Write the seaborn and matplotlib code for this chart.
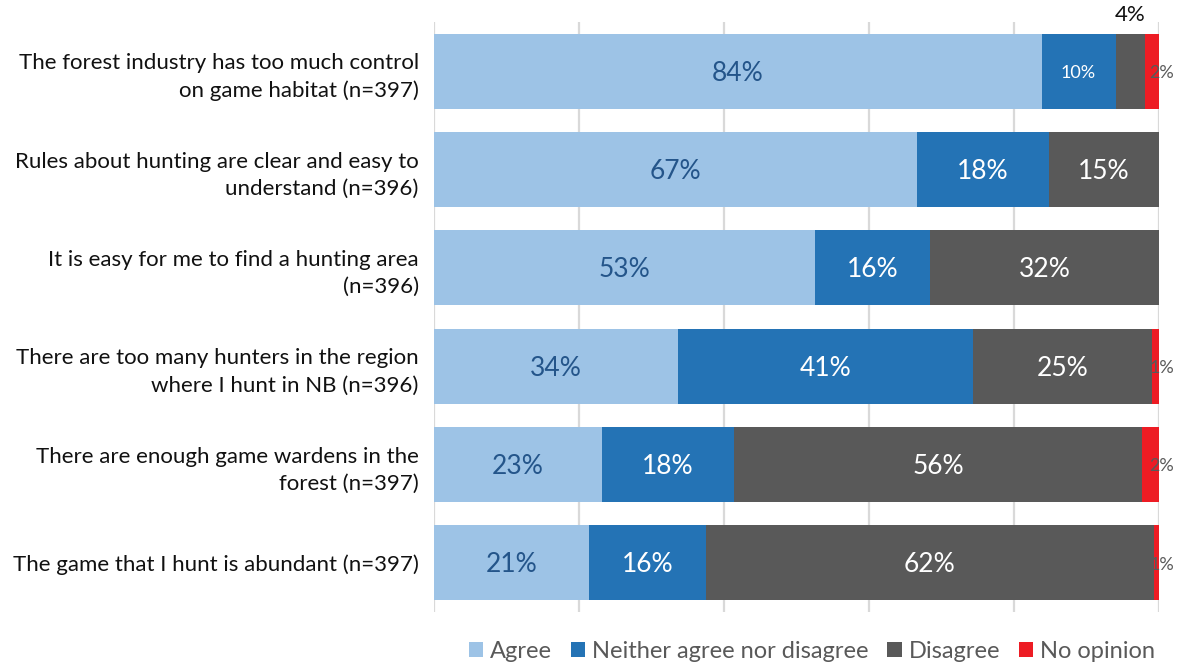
import matplotlib
matplotlib.use("Agg")
import matplotlib.pyplot as plt
import seaborn as sns
import pandas as pd
import numpy as np
from matplotlib.patches import Patch

# Survey statements and response shares (%)
statements = [
    "The forest industry has too much control\non game habitat (n=397)",
    "Rules about hunting are clear and easy to\nunderstand (n=396)",
    "It is easy for me to find a hunting area\n(n=396)",
    "There are too many hunters in the region\nwhere I hunt in NB (n=396)",
    "There are enough game wardens in the\nforest (n=397)",
    "The game that I hunt is abundant (n=397)",
]
agree = [83.8, 66.6, 52.6, 33.7, 23.2, 21.4]
neither = [10.2, 18.2, 15.8, 40.6, 18.2, 16.1]
disagree = [4.1, 15.2, 31.6, 24.8, 56.2, 61.8]
no_opinion = [1.9, 0.0, 0.0, 0.9, 2.4, 0.7]

series_names = ["Agree", "Neither agree nor disagree", "Disagree", "No opinion"]
series_vals = [agree, neither, disagree, no_opinion]
colors = ["#9DC3E6", "#2473B5", "#595959", "#ED1C24"]
label_colors = ["#24558A", "white", "white", "#595959"]

sns.set_theme(style="white")
plt.rcParams["font.family"] = ["Lato", "DejaVu Sans"]

fig = plt.figure(figsize=(11.86, 6.67), dpi=100)
ax = fig.add_axes([434 / 1186, 1 - 612 / 667, 725 / 1186, 590 / 667])

df = pd.DataFrame({"statement": statements})
cum = np.zeros(len(statements))
cums = []
for vals in series_vals:
    cum = cum + np.array(vals)
    cums.append(cum.copy())

# Draw cumulative totals from the outermost segment inwards so each layer shows its share
for name, c, col in reversed(list(zip(series_names, cums, colors))):
    d = df.assign(value=c)
    sns.barplot(data=d, x="value", y="statement", orient="h", color=col,
                width=0.76, saturation=1, ax=ax, zorder=3, edgecolor="none")

ax.set_xlim(0, 100)
ax.set_ylim(5.5, -0.5)
ax.set_xticks(np.arange(0, 101, 20))
ax.set_xticklabels([])
ax.set_xlabel("")
ax.set_ylabel("")
ax.grid(axis="x", color="#D9D9D9", linewidth=1.6, zorder=0)
ax.grid(axis="y", visible=False)
for s in ax.spines.values():
    s.set_visible(False)
ax.tick_params(axis="x", length=0)
ax.tick_params(axis="y", length=0, pad=11, labelsize=16, labelcolor="#111111")
for t in ax.get_yticklabels():
    t.set_horizontalalignment("right")
    t.set_linespacing(1.45)

# Segment value labels
for i in range(len(statements)):
    left = 0.0
    for k, vals in enumerate(series_vals):
        v = vals[i]
        if v <= 0:
            left += v
            continue
        txt = f"{int(v + 0.5)}%"
        center = left + v / 2
        if k == 3:
            ax.text(left + v + 0.4, i + 0.02, txt, ha="center", va="center",
                    fontsize=13, color=label_colors[k], zorder=5)
        elif v < 6:
            ax.text(center, -0.5 - 0.07, txt, ha="center", va="center",
                    fontsize=16, color="#111111", zorder=5, clip_on=False)
        else:
            fs = 13 if v < 12 else 19
            ax.text(center, i + 0.02, txt, ha="center", va="center",
                    fontsize=fs, color=label_colors[k], zorder=5)
        left += v

handles = [Patch(facecolor=c, edgecolor="none") for c in colors]
fig.legend(handles, series_names, loc="center", bbox_to_anchor=(812 / 1186, 1 - 651 / 667),
           ncol=4, frameon=False, fontsize=17, handlelength=0.6, handleheight=0.6,
           handletextpad=0.3, columnspacing=0.8, labelcolor="#595959")

fig.savefig("out.png", dpi=100)
